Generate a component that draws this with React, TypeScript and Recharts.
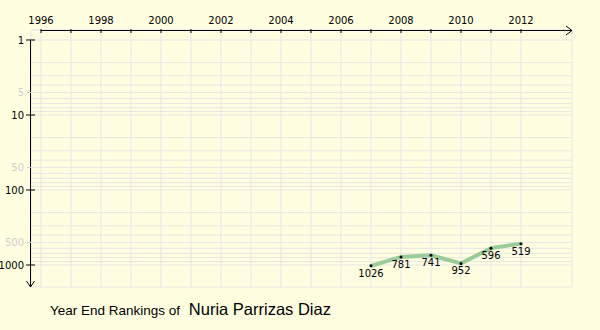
import { LineChart, Line, XAxis, YAxis, CartesianGrid, ReferenceLine, LabelList } from "recharts";

// year-end ranking history
const years = [2007, 2008, 2009, 2010, 2011, 2012];
const ranks = [1026, 781, 741, 952, 596, 519];

const yearTicks = [1996, 1997, 1998, 1999, 2000, 2001, 2002, 2003, 2004, 2005, 2006, 2007, 2008, 2009, 2010, 2011, 2012];
const rankTicks = [1, 2, 3, 4, 5, 6, 7, 8, 9, 10, 20, 30, 40, 50, 60, 70, 80, 90, 100, 200, 300, 400, 500, 600, 700, 800, 900, 1000];
const majorRanks = [1, 10, 100, 1000];
const minorRanks = [5, 50, 500];

const X_MIN = 1995.6667;
const X_MAX = 2013.7;
const Y_MIN = 0.7356;
const Y_MAX = 1965;

const data = years.map((year, i) => ({ year, rank: ranks[i] }));

const TICK_FONT = "'DejaVu Sans', Verdana, sans-serif";
const TITLE_FONT = "'Liberation Sans', Arial, sans-serif";
const BG = "#FFFEE0";

const YearTick = ({ x, y, payload }: any) => {
  const v = payload.value;
  return (
    <g>
      <line x1={x} x2={x} y1={y - 1} y2={y + 3} stroke="#000" />
      {v % 2 === 0 && (
        <text x={x} y={y - 6} textAnchor="middle" fontSize={10} fontFamily={TICK_FONT} fill="#000">
          {v}
        </text>
      )}
    </g>
  );
};

const RankTick = ({ x, y, payload }: any) => {
  const v = payload.value;
  if (majorRanks.includes(v)) {
    return (
      <g>
        <line x1={x - 5} x2={x + 4} y1={y} y2={y} stroke="#000" />
        <text x={x - 7} y={y + 4} textAnchor="end" fontSize={10} fontFamily={TICK_FONT} fill="#000">
          {v}
        </text>
      </g>
    );
  }
  if (minorRanks.includes(v)) {
    return (
      <g>
        <line x1={x - 4} x2={x} y1={y} y2={y} stroke="#cfcfcf" />
        <text x={x - 7} y={y + 4} textAnchor="end" fontSize={10} fontFamily={TICK_FONT} fill="#cfcfcf">
          {v}
        </text>
      </g>
    );
  }
  return null;
};

// axis lines with arrow heads
const XArrowLine = ({ x1, y1, x2, y2 }: any) => (
  <g>
    <line x1={x1} y1={y1 + 0.5} x2={x2} y2={y2 + 0.5} stroke="#000" />
    <polyline points={`${x2 - 6},${y2 - 4} ${x2},${y2 + 0.5} ${x2 - 6},${y2 + 5}`} fill="none" stroke="#000" />
  </g>
);

const YArrowLine = ({ x1, y1, x2, y2 }: any) => (
  <g>
    <line x1={x1 - 0.5} y1={y1} x2={x2 - 0.5} y2={y2} stroke="#000" />
    <polyline points={`${x2 - 4.5},${y2 - 6} ${x2 - 0.5},${y2} ${x2 + 3.5},${y2 - 6}`} fill="none" stroke="#000" />
  </g>
);

export default function App() {
  return (
    <div style={{ position: "absolute", left: 0, top: 0, width: 600, height: 330, background: BG, overflow: "hidden" }}>
      <LineChart width={600} height={330} data={data} margin={{ top: 0, right: 28, bottom: 43, left: 0 }}>
        <CartesianGrid stroke="#e6e6e6" strokeWidth={1} />
        <XAxis
          type="number"
          dataKey="year"
          orientation="top"
          height={30}
          domain={[X_MIN, X_MAX]}
          ticks={yearTicks}
          allowDataOverflow
          axisLine={false}
          tickLine={false}
          tickSize={0}
          tickMargin={0}
          tick={<YearTick />}
          interval={0}
        />
        <YAxis
          type="number"
          scale="log"
          reversed
          width={31}
          domain={[Y_MIN, Y_MAX]}
          ticks={rankTicks}
          allowDataOverflow
          axisLine={false}
          tickLine={false}
          tickSize={0}
          tickMargin={0}
          tick={<RankTick />}
          interval={0}
        />
        <ReferenceLine
          segment={[{ x: 1996, y: Y_MIN }, { x: X_MAX, y: Y_MIN }]}
          ifOverflow="visible"
          shape={(p: any) => <XArrowLine {...p} />}
        />
        <ReferenceLine
          segment={[{ x: X_MIN, y: 1 }, { x: X_MIN, y: Y_MAX }]}
          ifOverflow="visible"
          shape={(p: any) => <YArrowLine {...p} />}
        />
        <Line
          type="linear"
          dataKey="rank"
          stroke="#99cc99"
          strokeWidth={4}
          dot={{ r: 1.5, fill: "#000", stroke: "none" }}
          activeDot={false}
          isAnimationActive={false}
        >
          <LabelList dataKey="rank" position="bottom" offset={4} fontSize={10} fontFamily={TICK_FONT} fill="#000" />
        </Line>
      </LineChart>
      <div style={{ position: "absolute", left: 50, top: 300, fontFamily: TITLE_FONT, color: "#000", whiteSpace: "nowrap" }}>
        <span style={{ fontSize: 13.5 }}>Year End Rankings of </span>
        <span style={{ fontSize: 16.5, marginLeft: 5 }}>Nuria Parrizas Diaz</span>
      </div>
    </div>
  );
}
